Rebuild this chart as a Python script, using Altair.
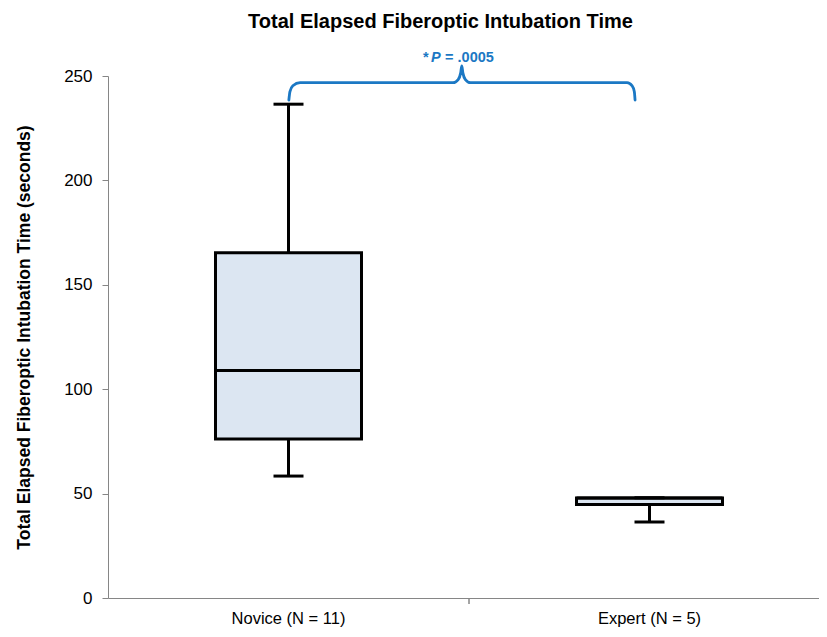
import altair as alt
import pandas as pd

# ---- data ----
groups = ["Novice (N = 11)", "Expert (N = 5)"]
w_min = [58.4, 36.4]
q1 = [76.1, 44.8]
median = [108.9, 47.9]
q3 = [165.4, 47.9]
w_max = [236.5, 48.0]

# significance brace (x in band units 0..2, y in seconds)
brace_x = [0.501, 0.504, 0.512, 0.532, 0.956, 0.970, 0.977, 0.980,
           0.983, 0.990, 1.004, 1.438, 1.452, 1.458, 1.460]
brace_y = [238.5, 242.5, 245.3, 246.8, 246.8, 248.3, 251.5, 254.8,
           251.5, 248.3, 246.8, 246.8, 245.3, 242.5, 238.5]
p_x = [0.967]
p_y = [256.8]

W, H = 711, 522          # visible plot width (axis runs on past the page edge)
STEP_RANGE = 722         # full band range as in the reference
BLUE = "#1B78C4"
FONT = "Liberation Sans"
YTITLE = "Total Elapsed Fiberoptic Intubation Time (seconds)"
AX = "#868686"

box = pd.DataFrame({"group": groups, "lo": w_min, "q1": q1, "med": median,
                    "q3": q3, "hi": w_max})
brace = pd.DataFrame({"bx": brace_x, "by": brace_y, "order": list(range(len(brace_x)))})
ptxt = pd.DataFrame({"bx": p_x, "by": p_y})

xenc = alt.X("group:N", sort=groups, title=None,
             scale=alt.Scale(paddingInner=0, paddingOuter=0, range=[0, STEP_RANGE]),
             axis=alt.Axis(ticks=False, labelPadding=12, labelFontSize=16.5, labelFont=FONT,
                           labelColor="#000", domainColor=AX, labelAngle=0))
yscale = alt.Scale(domain=[0, 250])

def yenc(field):
    return alt.Y(f"{field}:Q", scale=yscale, title=YTITLE,
                 axis=alt.Axis(values=[0, 50, 100, 150, 200, 250], grid=False,
                               tickSize=6, labelPadding=10, labelFontSize=17,
                               labelFont=FONT, labelColor="#000", domainColor=AX,
                               tickColor=AX, titleFontSize=17.5, titleFont=FONT,
                               titleFontWeight="bold", titleColor="#000",
                               titlePadding=30))

base = alt.Chart(box)
whisk = base.mark_rule(color="black", strokeWidth=3).encode(x=xenc, y=yenc("lo"), y2="hi")
bars = base.mark_bar(size=146, fill="#DCE6F2", stroke="black", strokeWidth=3,
                     opacity=1).encode(x=xenc, y=yenc("q1"), y2="q3")
med = base.mark_tick(size=146, thickness=3, color="black", opacity=1).encode(
    x=xenc, y=yenc("med"))
cap_lo = base.mark_tick(size=30, thickness=3, color="black", opacity=1).encode(
    x=xenc, y=yenc("lo"))
cap_hi = base.mark_tick(size=30, thickness=3, color="black", opacity=1).encode(
    x=xenc, y=yenc("hi"))
midtick = base.mark_rule(color=AX, strokeWidth=1).encode(
    x=alt.value(STEP_RANGE / 2), y=alt.value(H), y2=alt.value(H + 6))

main = alt.layer(whisk, bars, med, cap_lo, cap_hi, midtick)

bx = alt.X("bx:Q", scale=alt.Scale(domain=[0, 2], nice=False, zero=False,
                                   range=[0, STEP_RANGE]), axis=None)
brace_line = alt.Chart(brace).mark_line(color=BLUE, strokeWidth=2.8, interpolate="monotone",
                                        strokeCap="round").encode(
    x=bx, y=yenc("by"), order="order:Q")
txt_kw = dict(align="left", baseline="alphabetic", fontSize=14.5, fontWeight="bold",
              color=BLUE, font=FONT)
t_star = alt.Chart(ptxt).mark_text(text="*", dx=-34, **txt_kw).encode(x=bx, y=yenc("by"))
t_p = alt.Chart(ptxt).mark_text(text="P", dx=-26, fontStyle="italic", **txt_kw).encode(
    x=bx, y=yenc("by"))
t_val = alt.Chart(ptxt).mark_text(text="= .0005", dx=-12, **txt_kw).encode(x=bx, y=yenc("by"))
over = alt.layer(brace_line, t_star, t_p, t_val)

chart = alt.layer(main, over).resolve_scale(x="independent").properties(
    width=W, height=H,
    title=alt.TitleParams("Total Elapsed Fiberoptic Intubation Time", fontSize=20,
                          fontWeight="bold", font=FONT, color="#000", anchor="middle",
                          frame="group", dx=-23, offset=18),
    autosize=alt.AutoSizeParams(type="none"),
    padding={"left": 100, "top": 68, "right": 0, "bottom": 30},
).configure(font=FONT).configure_view(stroke=None)

chart.save("out.html", embed_options={"renderer": "svg", "actions": False})
